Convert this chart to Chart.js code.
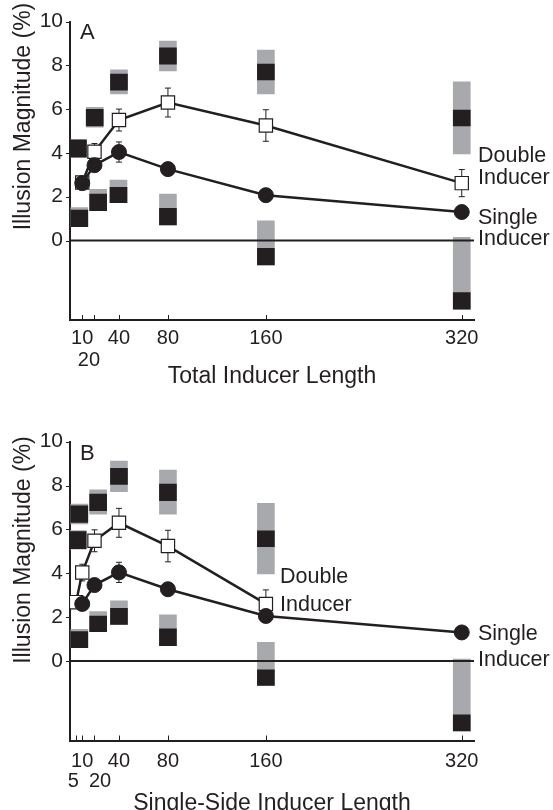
<!DOCTYPE html>
<html>
<head>
<meta charset="utf-8">
<script src="https://cdn.jsdelivr.net/npm/chart.js@4.4.0/dist/chart.umd.min.js"></script>
<style>
    html, body { margin: 0; padding: 0; background: #fff; overflow: hidden; }
    .panel { position: absolute; left: 0; width: 553px; }
    #wrapA { top: 0; height: 400px; }
    #wrapB { top: 400px; height: 420px; }
</style>
</head>
<body>
<div class="panel" id="wrapA"><canvas id="chartA"></canvas></div>
<div class="panel" id="wrapB"><canvas id="chartB"></canvas></div>
<script>
// y axis (shared)
const yTicks = [0, 2, 4, 6, 8, 10];

// Panel A - total inducer length
const ticksA = [10, 20, 40, 80, 160, 320];
const tickLabelsA = ["10", ["", "20  "], "40", "80", "160", "320"];
const doubleXA = [10, 20, 40, 80, 160, 320];
const doubleA = [2.65, 4.05, 5.5, 6.3, 5.25, 2.62];
const doubleErrA = [0.15, 0.38, 0.5, 0.66, 0.72, 0.62];
const singleXA = [10, 20, 40, 80, 160, 320];
const singleA = [2.62, 3.44, 4.04, 3.26, 2.07, 1.3];
const singleErrA = [0.15, 0.2, 0.46, 0.2, 0.15, 0.15];
// stimulus icons (gray bar with black square)
const iconXA = [6.5, 7.6, 20.2, 23, 40, 39.6, 80, 80, 160, 160, 320, 320];
const grayLoA = [3.8, 0.63, 5.17, 1.36, 6.69, 1.73, 7.74, 0.71, 6.69, -1.12, 3.95, -3.14];
const grayHiA = [4.6, 1.5, 6.08, 2.34, 7.79, 2.76, 9.11, 2.12, 8.7, 0.9, 7.25, 0.15];
const blackLoA = [3.8, 0.63, 5.23, 1.36, 6.87, 1.73, 8.05, 0.71, 7.33, -1.12, 5.23, -3.14];
const blackHiA = [4.6, 1.39, 5.99, 2.12, 7.6, 2.43, 8.8, 1.47, 8.06, -0.36, 5.96, -2.38];

// Panel B - single-side inducer length
const ticksB = [5, 10, 20, 40, 80, 160, 320];
const tickLabelsB = [["", "5 "], "10", ["", "  20"], "40", "80", "160", "320"];
const doubleXB = [5, 10, 20, 40, 80, 160];
const doubleB = [2.68, 4.03, 5.48, 6.3, 5.24, 2.6];
const doubleErrB = [0.2, 0.38, 0.5, 0.66, 0.72, 0.64];
const singleXB = [10, 20, 40, 80, 160, 320];
const singleB = [2.6, 3.46, 4.04, 3.27, 2.05, 1.3];
const singleErrB = [0.15, 0.2, 0.46, 0.2, 0.15, 0.15];
const iconXB = [7.6, 6.3, 7.6, 23, 23, 40, 40, 80, 80, 160, 160, 320];
const grayLoB = [6.25, 5.1, 0.61, 6.69, 1.34, 7.72, 1.67, 6.69, 0.7, 3.97, -1.12, -3.19];
const grayHiB = [7.16, 5.95, 1.44, 7.8, 2.25, 9.12, 2.74, 8.71, 2.1, 7.19, 0.85, 0.08];
const blackLoB = [6.32, 5.12, 0.61, 6.85, 1.34, 8.05, 1.67, 7.31, 0.7, 5.21, -1.12, -3.19];
const blackHiB = [7.07, 5.9, 1.34, 7.61, 2.05, 8.78, 2.4, 8.07, 1.46, 5.93, -0.41, -2.46];

const ink = "#231f20";
const gray = "#a7a9ac";
const family = "'Liberation Sans', Arial, Helvetica, sans-serif";

function makePanel(id, p) {
    const pts = (xs, ys) => xs.map((x, i) => ({ x: x, y: ys[i] }));
    const bars = (xs, lo, hi) => xs.map((x, i) => ({ x: x, y: [lo[i], hi[i]] }));

    const decor = {
        id: "decor",
        beforeDatasetsDraw(chart) {
            const { ctx, scales: { x, y } } = chart;
            ctx.save();
            ctx.strokeStyle = ink;
            ctx.lineWidth = 1;
            p.errors.forEach((e) => {
                e.xs.forEach((xv, i) => {
                    const px = x.getPixelForValue(xv);
                    const top = y.getPixelForValue(e.ys[i] + e.err[i]);
                    const bot = y.getPixelForValue(e.ys[i] - e.err[i]);
                    ctx.beginPath();
                    ctx.moveTo(px, top); ctx.lineTo(px, bot);
                    ctx.moveTo(px - 3, top); ctx.lineTo(px + 3, top);
                    ctx.moveTo(px - 3, bot); ctx.lineTo(px + 3, bot);
                    ctx.stroke();
                });
            });
            ctx.restore();
        },
        afterDatasetsDraw(chart) {
            const { ctx, chartArea, scales: { y } } = chart;
            const y0 = y.getPixelForValue(0);
            ctx.save();
            ctx.strokeStyle = ink;
            ctx.lineWidth = 2;
            ctx.beginPath();
            ctx.moveTo(chartArea.left, y0);
            ctx.lineTo(chartArea.right, y0);
            ctx.stroke();
            ctx.restore();
        },
        afterDraw(chart) {
            const { ctx, chartArea, scales: { x, y } } = chart;
            ctx.save();
            ctx.strokeStyle = ink;
            ctx.lineWidth = 1;
            // inside ticks on x, outside ticks on y
            p.ticks.forEach((v) => {
                const px = Math.round(x.getPixelForValue(v)) + 0.5;
                ctx.beginPath();
                ctx.moveTo(px, chartArea.bottom);
                ctx.lineTo(px, chartArea.bottom - 5);
                ctx.stroke();
            });
            yTicks.forEach((v) => {
                const py = Math.round(y.getPixelForValue(v)) + 0.5;
                ctx.beginPath();
                ctx.moveTo(chartArea.left, py);
                ctx.lineTo(chartArea.left - 4, py);
                ctx.stroke();
            });
            ctx.fillStyle = ink;
            ctx.textBaseline = "alphabetic";
            ctx.textAlign = "left";
            ctx.font = "22px " + family;
            ctx.fillText(p.letter, 80, p.letterY);
            ctx.font = "21.5px " + family;
            p.notes.forEach((n) => ctx.fillText(n.t, n.x, n.y));
            // y axis title
            ctx.font = "23px " + family;
            ctx.translate(24, p.yTitleY);
            ctx.rotate(-Math.PI / 2);
            ctx.textAlign = "center";
            ctx.textBaseline = "middle";
            ctx.fillText("Illusion Magnitude (%)", 0, 0);
            ctx.restore();
        }
    };

    return new Chart(document.getElementById(id), {
        type: "line",
        data: {
            datasets: [
                {
                    label: "Single Inducer",
                    data: pts(p.singleX, p.single),
                    borderColor: ink,
                    borderWidth: 2.5,
                    pointStyle: "circle",
                    pointRadius: 7.5,
                    pointBackgroundColor: ink,
                    pointBorderColor: ink,
                    pointBorderWidth: 1,
                    order: 0
                },
                {
                    label: "Double Inducer",
                    data: pts(p.doubleX, p.double),
                    borderColor: ink,
                    borderWidth: 2.5,
                    pointStyle: "rect",
                    pointRadius: 9.4,
                    pointBackgroundColor: "#fff",
                    pointBorderColor: ink,
                    pointBorderWidth: 1.2,
                    order: 1
                },
                {
                    type: "bar",
                    data: bars(p.iconX, p.blackLo, p.blackHi),
                    backgroundColor: ink,
                    barThickness: 17,
                    grouped: false,
                    order: 2
                },
                {
                    type: "bar",
                    data: bars(p.iconX, p.grayLo, p.grayHi),
                    backgroundColor: gray,
                    barThickness: 17,
                    grouped: false,
                    order: 3
                }
            ]
        },
        options: {
            responsive: true,
            maintainAspectRatio: false,
            animation: false,
            layout: { padding: { top: p.padTop, right: 79, left: 0, bottom: 0 }, autoPadding: false },
            plugins: { legend: { display: false }, tooltip: { enabled: false } },
            scales: {
                x: {
                    type: "linear",
                    min: 0,
                    max: 330,
                    offset: false,
                    afterBuildTicks: (s) => { s.ticks = p.ticks.map((v) => ({ value: v })); },
                    afterFit: (s) => { s.height = p.xHeight; },
                    grid: { display: false, drawTicks: false },
                    border: { display: true, color: ink, width: 2 },
                    ticks: {
                        autoSkip: false,
                        maxRotation: 0,
                        padding: p.tickPad,
                        color: ink,
                        font: { family: family, size: 20, lineHeight: p.tickLH },
                        callback: (v, i) => p.tickLabels[i]
                    },
                    title: {
                        display: true,
                        text: p.xTitle,
                        color: ink,
                        font: { family: family, size: 23 },
                        padding: { top: 0, bottom: p.titlePad }
                    }
                },
                y: {
                    min: -3.63,
                    max: 10,
                    afterBuildTicks: (s) => { s.ticks = yTicks.map((v) => ({ value: v })); },
                    afterFit: (s) => { s.width = 70; },
                    grid: { display: false, drawTicks: false },
                    border: { display: true, color: ink, width: 2 },
                    ticks: { padding: 7, color: ink, font: { family: family, size: 21 } }
                }
            }
        },
        plugins: [decor]
    });
}

makePanel("chartA", {
    ticks: ticksA, tickLabels: tickLabelsA,
    singleX: singleXA, single: singleA, doubleX: doubleXA, double: doubleA,
    iconX: iconXA, grayLo: grayLoA, grayHi: grayHiA, blackLo: blackLoA, blackHi: blackHiA,
    errors: [
        { xs: doubleXA, ys: doubleA, err: doubleErrA },
        { xs: singleXA, ys: singleA, err: singleErrA }
    ],
    padTop: 21.5, xHeight: 80, tickPad: 8, tickLH: 1.07, titlePad: 9.5,
    xTitle: "Total Inducer Length",
    letter: "A", letterY: 39, yTitleY: 116.5,
    notes: [
        { t: "Double", x: 478, y: 162 },
        { t: "Inducer", x: 478, y: 183.5 },
        { t: "Single", x: 478, y: 224 },
        { t: "Inducer", x: 478, y: 245 }
    ]
});

makePanel("chartB", {
    ticks: ticksB, tickLabels: tickLabelsB,
    singleX: singleXB, single: singleB, doubleX: doubleXB, double: doubleB,
    iconX: iconXB, grayLo: grayLoB, grayHi: grayHiB, blackLo: blackLoB, blackHi: blackHiB,
    errors: [
        { xs: doubleXB, ys: doubleB, err: doubleErrB },
        { xs: singleXB, ys: singleB, err: singleErrB }
    ],
    padTop: 41.7, xHeight: 79.5, tickPad: 10.5, tickLH: 1.0, titlePad: 2.9,
    xTitle: "Single-Side Inducer Length",
    letter: "B", letterY: 60, yTitleY: 150,
    notes: [
        { t: "Double", x: 280, y: 183.3 },
        { t: "Inducer", x: 280, y: 210.7 },
        { t: "Single", x: 478, y: 240 },
        { t: "Inducer", x: 478, y: 266 }
    ]
});
</script>
</body>
</html>
